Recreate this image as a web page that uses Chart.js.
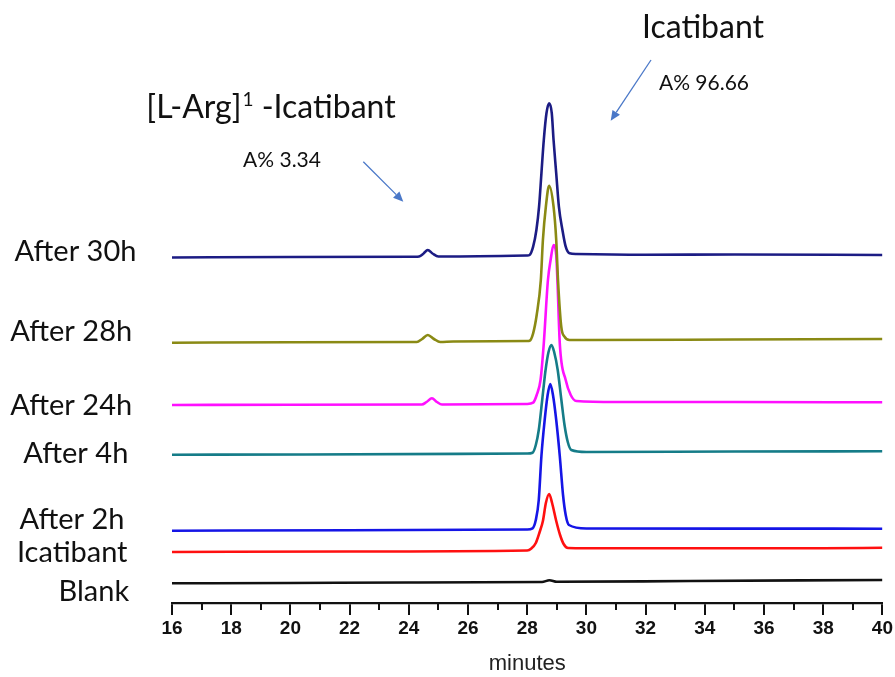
<!DOCTYPE html>
<html>
<head>
<meta charset="utf-8">
<script src="https://cdn.jsdelivr.net/npm/chart.js@4.4.1/dist/chart.umd.min.js"></script>
<style>
  html, body { margin: 0; padding: 0; background: #ffffff; }
  #wrap { width: 895px; height: 677px; position: relative; }
</style>
</head>
<body>
<div id="wrap"><canvas id="c" width="895" height="677"></canvas></div>
<script>
// ---- data: [minutes, detector signal (offset, arbitrary units)] ----
const seriesNames = ["After 30h", "After 28h", "After 24h", "After 4h", "After 2h", "Icatibant", "Blank"];
const seriesColors = ["#1c1c84", "#8a8a14", "#ff10ff", "#157c88", "#1515e6", "#ff1010", "#111111"];

const after30h = [[16,345.5],[20,346],[24.2,346.2],[24.35,346.5],[24.5,349.5],[24.64,353],[24.8,349.5],[25.0,346.5],[25.2,346.5],[28.0,347.5],
  [28.08,348],[28.20,356.3],[28.31,373],[28.40,396.3],[28.48,429.7],[28.56,463],[28.65,489.7],[28.74,499.7],[28.83,489.7],[28.89,463],
  [28.98,429.7],[29.07,396.3],[29.19,373],[29.30,356.3],[29.43,349.7],[29.66,349],[32,348.3],[35,348.5],[40,348]];
const after28h = [[16,260.3],[20,260.8],[24.27,261],[24.45,264],[24.64,268],[24.85,264],[25.06,261],[25.5,261.5],[28.0,262],
  [28.08,262.3],[28.20,269.7],[28.32,288],[28.46,323],[28.53,363],[28.63,396.3],[28.74,417.3],[28.89,396.3],[28.98,363],[29.04,323],
  [29.15,276.3],[29.26,266.3],[29.43,263],[30,263],[35,263.5],[40,264]];
const after24h = [[16,198],[20,198.3],[24.44,198.5],[24.6,201],[24.78,204.7],[24.95,201],[25.12,198.5],[28.0,199],
  [28.20,200.3],[28.32,208],[28.45,223],[28.56,259.7],[28.70,323],[28.79,343],[28.89,358],[28.98,348],[29.02,323],[29.10,259.7],
  [29.30,223],[29.47,208],[29.66,202],[31,201],[35,201],[40,200.7]];
const after4h = [[16,148.3],[20.5,148.5],[28.0,149.5],[28.18,150.3],[28.29,158],[28.39,173],[28.51,204],[28.62,233],[28.72,251],
  [28.82,258],[28.91,251],[29.03,233],[29.15,204],[29.26,178],[29.37,161],[29.49,153],[30,151],[35,151.5],[40,151.7]];
const after2h = [[16,72.3],[22,72.8],[28.0,73.5],[28.18,74.7],[28.29,83],[28.39,103],[28.48,147],[28.59,183],[28.69,208],[28.78,219],
  [28.87,208],[28.98,183],[29.10,147],[29.21,108],[29.30,88],[29.41,78],[30,74.5],[35,74.4],[40,74.3]];
const icatibant = [[16,51],[22,51.5],[28.0,52.5],[28.14,54.5],[28.29,60],[28.42,71],[28.53,82],[28.63,100],[28.74,109],[28.84,100],
  [28.98,82],[29.11,68],[29.23,59],[29.38,55],[30,54.8],[38,54.7],[40,55.2]];
const blank = [[16,19.7],[20,20],[24,20.5],[28.5,21],[28.75,22.8],[29.0,21.2],[33.5,22],[40,23]];

const seriesData = [after30h, after28h, after24h, after4h, after2h, icatibant, blank];

const xTickMin = 16, xTickMax = 40, xTickStep = 2;
const xTitle = "minutes";

// ---- chart ----
const datasets = seriesData.map((pts, i) => ({
  label: seriesNames[i],
  data: pts.map(p => ({ x: p[0], y: p[1] })),
  borderColor: seriesColors[i],
  borderWidth: 2.6,
  pointRadius: 0,
  fill: false,
  cubicInterpolationMode: 'monotone'
}));

const labelPos = [
  { text: "After 30h", x: 75.5, y: 260.5 },
  { text: "After 28h", x: 71.2, y: 340.5 },
  { text: "After 24h", x: 71.2, y: 415 },
  { text: "After 4h",  x: 75.8, y: 463.3 },
  { text: "After 2h",  x: 72,   y: 529.3 },
  { text: "Icatibant", x: 72.2, y: 561.5 },
  { text: "Blank",     x: 93.8, y: 600.5 }
];

const FONT = "Lato, 'Open Sans', sans-serif";

function arrow(ctx, x1, y1, x2, y2) {
  ctx.save();
  ctx.strokeStyle = "#4a78c8";
  ctx.fillStyle = "#4a78c8";
  ctx.lineWidth = 1.3;
  const ang = Math.atan2(y2 - y1, x2 - x1);
  const hl = 10, hw = 4.5;
  const bx = x2 - hl * Math.cos(ang), by = y2 - hl * Math.sin(ang);
  ctx.beginPath(); ctx.moveTo(x1, y1); ctx.lineTo(bx, by); ctx.stroke();
  ctx.beginPath();
  ctx.moveTo(x2, y2);
  ctx.lineTo(bx + hw * Math.sin(ang), by - hw * Math.cos(ang));
  ctx.lineTo(bx - hw * Math.sin(ang), by + hw * Math.cos(ang));
  ctx.closePath(); ctx.fill();
  ctx.restore();
}

const decor = {
  id: 'decor',
  afterDraw(chart) {
    const ctx = chart.ctx;
    const xs = chart.scales.x;
    const bottom = chart.chartArea.bottom;
    // minor ticks
    ctx.save();
    ctx.strokeStyle = "#111";
    ctx.lineWidth = 2;
    for (let t = xTickMin + 1; t < xTickMax; t += xTickStep) {
      const px = Math.round(xs.getPixelForValue(t));
      ctx.beginPath(); ctx.moveTo(px, bottom); ctx.lineTo(px, bottom + 7); ctx.stroke();
    }
    ctx.restore();
    // series labels
    ctx.save();
    ctx.fillStyle = "#111";
    ctx.textAlign = "center";
    ctx.textBaseline = "alphabetic";
    ctx.font = "29px " + FONT;
    labelPos.forEach(l => ctx.fillText(l.text, l.x, l.y));
    // annotations
    ctx.font = "32px " + FONT;
    ctx.fillText("Icatibant", 703, 38);
    ctx.font = "21px " + FONT;
    ctx.fillText("A% 96.66", 704, 90);
    ctx.fillText("A% 3.34", 282, 167);
    // [L-Arg]1 -Icatibant
    ctx.textAlign = "left";
    const big = "32px " + FONT, sup = "19px " + FONT;
    const p1 = "[L-Arg]", p2 = " -Icatibant";
    ctx.font = big;
    const w1 = ctx.measureText(p1).width;
    const w2 = ctx.measureText(p2).width;
    ctx.font = sup;
    const ws = ctx.measureText("1").width;
    const total = w1 + ws + 1 + w2;
    const x0 = 271 - total / 2;
    ctx.font = big;
    ctx.fillText(p1, x0, 118);
    ctx.fillText(p2, x0 + w1 + ws + 1, 118);
    ctx.font = sup;
    ctx.fillText("1", x0 + w1 + 1, 106);
    ctx.restore();
    // arrows
    arrow(ctx, 363.3, 161.7, 403.3, 201.7);
    arrow(ctx, 651, 60, 610.7, 120.7);
  }
};

new Chart(document.getElementById('c'), {
  type: 'line',
  data: { datasets },
  options: {
    responsive: false,
    animation: false,
    events: [],
    layout: { padding: { left: 172, right: 12, top: 93, bottom: 0 } },
    plugins: { legend: { display: false }, tooltip: { enabled: false } },
    scales: {
      x: {
        type: 'linear',
        min: xTickMin, max: xTickMax,
        afterFit(scale) { scale.height = 74; },
        ticks: {
          stepSize: xTickStep,
          color: "#111",
          font: { family: "'Liberation Sans Narrow', 'Liberation Sans', Arial, sans-serif", size: 19, weight: 'bold' },
          padding: 2,
          maxRotation: 0
        },
        grid: { drawOnChartArea: false, drawTicks: true, tickLength: 12, color: "#111", lineWidth: 2 },
        border: { display: true, color: "#111", width: 2.3 },
        title: {
          display: true, text: xTitle, color: "#222",
          font: { family: "'Liberation Sans', Arial, sans-serif", size: 22 },
          padding: { top: 4, bottom: 0 }
        }
      },
      y: {
        display: false,
        min: 0, max: 510
      }
    }
  },
  plugins: [decor]
});
</script>
</body>
</html>
